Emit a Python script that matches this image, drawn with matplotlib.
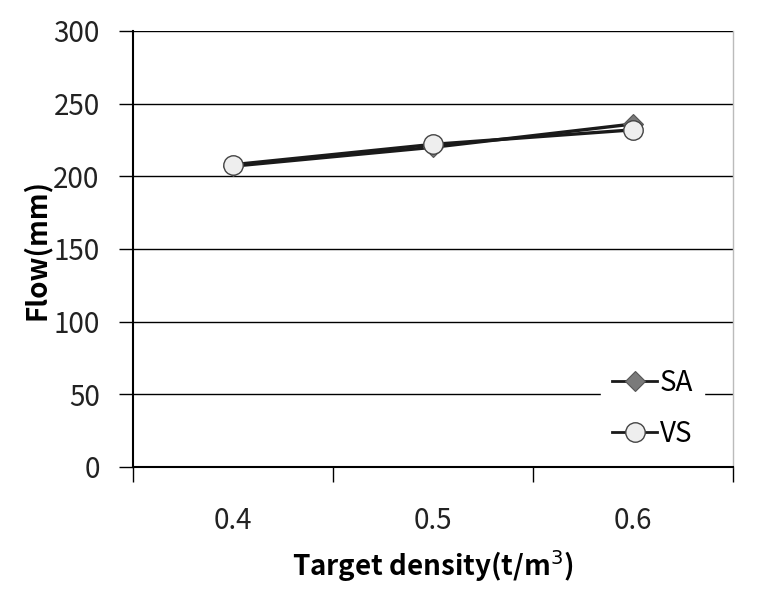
import matplotlib
matplotlib.use("Agg")
import matplotlib.pyplot as plt
import numpy as np

categories = ["0.4", "0.5", "0.6"]
sa_values = [207, 220, 236]
vs_values = [208, 222, 232]
y_ticks = [0, 50, 100, 150, 200, 250, 300]

plt.rcParams['font.family'] = ['Noto Sans CJK KR', 'DejaVu Sans']

fig = plt.figure(figsize=(7.58, 5.89), dpi=100)
ax = fig.add_axes([133/758, 122/589, 600/758, 436/589])

x = np.arange(len(categories)) + 0.5
ax.set_xlim(0, len(categories))
ax.set_ylim(0, 300)

for yt in y_ticks[1:]:
    ax.axhline(yt, color='black', lw=1.0, zorder=1)

ax.plot(x, sa_values, color='#1a1a1a', lw=2.4, marker='D', markersize=10,
        markerfacecolor='#7a7a7a', markeredgecolor='#555555', markeredgewidth=0.8,
        label='SA', zorder=3)
ax.plot(x, vs_values, color='#1a1a1a', lw=2.4, marker='o', markersize=14,
        markerfacecolor='#eeeeee', markeredgecolor='#444444', markeredgewidth=1.0,
        label='VS', zorder=4)

ax.set_yticks(y_ticks)
ax.set_yticklabels([str(v) for v in y_ticks], fontsize=20, color='#222222')
ax.tick_params(axis='y', direction='out', length=10, width=1, pad=14)

ax.set_xticks(np.arange(len(categories) + 1))
ax.set_xticklabels([])
ax.set_xticks(x, minor=True)
ax.set_xticklabels(categories, minor=True, fontsize=20, color='#222222')
ax.tick_params(axis='x', which='major', direction='out', length=11, width=1)
ax.tick_params(axis='x', which='minor', length=0, pad=28)

for s in ['left', 'bottom']:
    ax.spines[s].set_linewidth(1.5)
    ax.spines[s].set_color('black')
ax.spines['top'].set_visible(False)
ax.spines['right'].set_color('#bbbbbb')
ax.spines['right'].set_linewidth(1.0)

ax.set_ylabel('Flow(mm)', fontsize=20, fontweight='bold', labelpad=2)
ax.set_xlabel('Target density(t/m$^3$)', fontsize=20, fontweight='bold', labelpad=9)

leg = ax.legend(loc='lower right', bbox_to_anchor=(0.975, -0.015), frameon=True,
                fontsize=20, handlelength=1.6, handletextpad=0.1, labelspacing=0.75,
                borderpad=0.4)
leg.get_frame().set_edgecolor('white')
leg.get_frame().set_facecolor('white')
leg.get_frame().set_alpha(1)
leg.get_frame().set_boxstyle('square', pad=0)
leg.set_zorder(5)
for h in leg.legend_handles:
    h.set_linewidth(2)

fig.savefig('out.png', dpi=100, facecolor='white')
